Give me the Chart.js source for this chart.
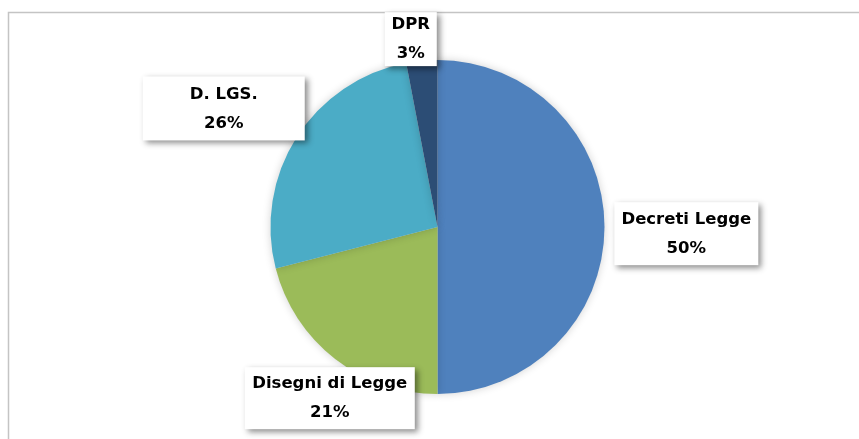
<!DOCTYPE html>
<html><head><meta charset="utf-8">
<script src="https://cdn.jsdelivr.net/npm/chart.js@4.4.1/dist/chart.umd.min.js"></script>
<style>html,body{margin:0;padding:0;background:#fff;}#wrap{width:859px;height:439px;position:relative;}</style>
</head><body><div id="wrap"><canvas id="c" width="859" height="439"></canvas></div>
<script>
const categories = ['Decreti Legge', 'Disegni di Legge', 'D. LGS.', 'DPR'];
const values = [50, 21, 26, 3];
const colors = ['#4F81BD', '#9BBB59', '#4BACC6', '#2C4D75'];
// label box centre offsets relative to pie centre, in units of radius
const labelOffsets = [[1.49, 0.04], [-0.645, 1.025], [-1.28, -0.71], [-0.16, -1.125]];
const boxSizes = [[144, 63], [170, 62], [162, 64], [52, 54]];

const total = values.reduce((a, b) => a + b, 0);

const frame = {
  id: 'frame',
  beforeDraw(chart) {
    const ctx = chart.ctx;
    ctx.save();
    ctx.fillStyle = '#fff';
    ctx.fillRect(0, 0, chart.width, chart.height);
    ctx.strokeStyle = '#c4c4c4';
    ctx.lineWidth = 1.5;
    ctx.beginPath();
    ctx.moveTo(8.5, chart.height + 5);
    ctx.lineTo(8.5, 12.5);
    ctx.lineTo(chart.width + 5, 12.5);
    ctx.stroke();
    ctx.restore();
  },
  beforeDatasetsDraw(chart) {
    const ctx = chart.ctx;
    ctx.save();
    ctx.shadowColor = 'rgba(0,0,0,0.18)';
    ctx.shadowBlur = 8;
    ctx.shadowOffsetX = 0;
    ctx.shadowOffsetY = 0;
  },
  afterDatasetsDraw(chart) {
    chart.ctx.restore();
  }
};

const boxLabels = {
  id: 'boxLabels',
  afterDatasetsDraw(chart) {
    const ctx = chart.ctx;
    const meta = chart.getDatasetMeta(0);
    const arc0 = meta.data[0];
    const cx = arc0.x, cy = arc0.y, R = arc0.outerRadius;
    ctx.save();
    ctx.font = 'bold 16.5px "DejaVu Sans"';
    ctx.textAlign = 'center';
    ctx.textBaseline = 'middle';
    categories.forEach((cat, i) => {
      const pct = Math.round(values[i] / total * 100) + '%';
      const bx = cx + labelOffsets[i][0] * R;
      const by = cy + labelOffsets[i][1] * R;
      const w = boxSizes[i][0];
      const h = boxSizes[i][1];
      ctx.save();
      ctx.shadowColor = 'rgba(0,0,0,0.45)';
      ctx.shadowBlur = 6;
      ctx.shadowOffsetX = 3;
      ctx.shadowOffsetY = 3;
      ctx.fillStyle = '#fff';
      ctx.fillRect(bx - w / 2, by - h / 2, w, h);
      ctx.restore();
      ctx.fillStyle = '#000';
      ctx.fillText(cat, bx, by - 14);
      ctx.fillText(pct, bx, by + 15);
    });
    ctx.restore();
  }
};

new Chart(document.getElementById('c'), {
  type: 'pie',
  data: {
    labels: categories,
    datasets: [{ data: values, backgroundColor: colors, borderWidth: 0, hoverOffset: 0 }]
  },
  options: {
    responsive: false,
    animation: false,
    layout: { padding: { top: 60, bottom: 45, left: 16, right: 0 } },
    plugins: { legend: { display: false }, tooltip: { enabled: false } }
  },
  plugins: [frame, boxLabels]
});
</script></body></html>
